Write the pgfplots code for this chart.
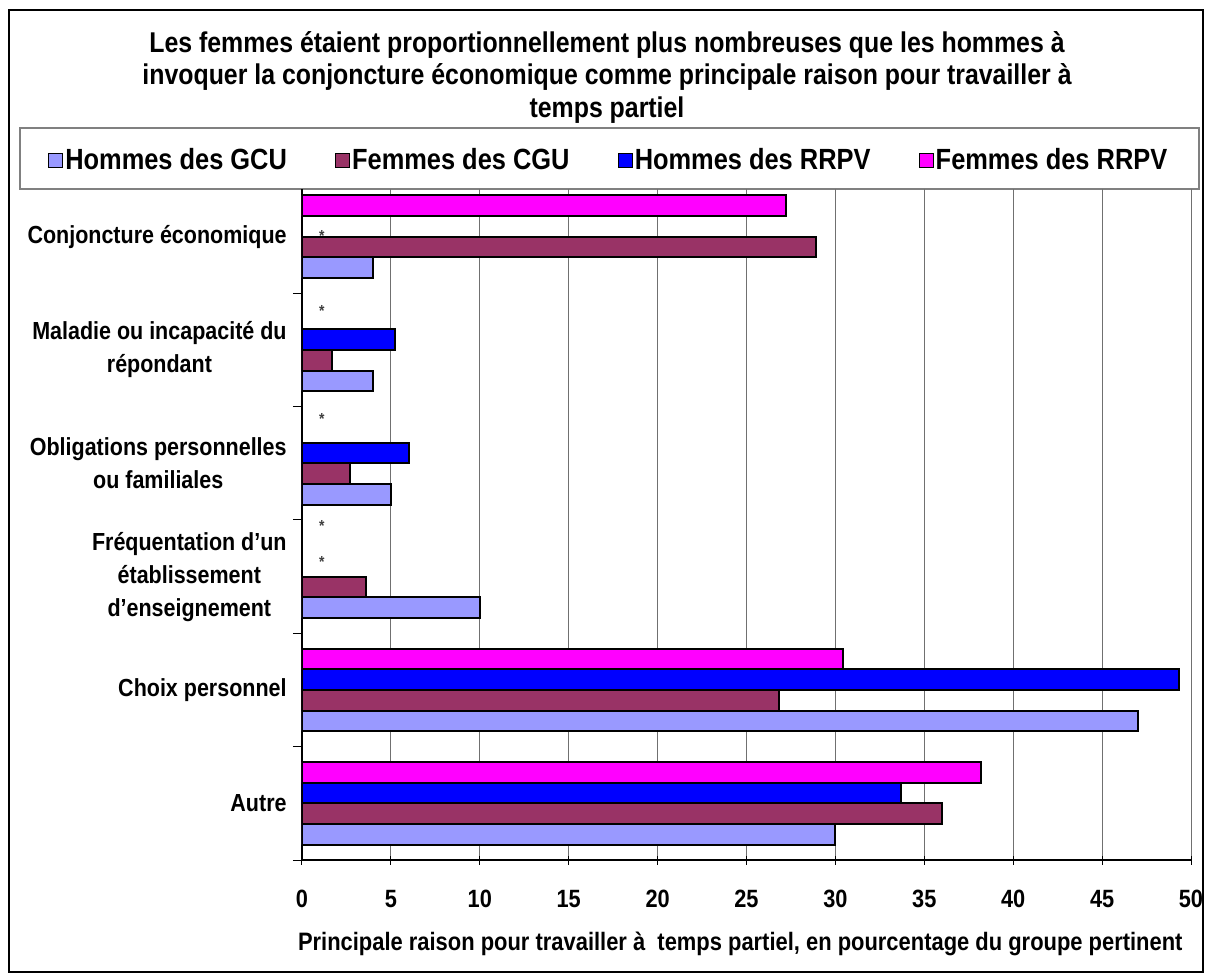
\documentclass[border=0pt]{standalone}
\usepackage{fontspec}
\setmainfont{Liberation Sans}[FakeStretch=0.87]
\usepackage{pgfplots}
\pgfplotsset{compat=1.18}
\definecolor{gcu}{HTML}{9999FF}
\definecolor{cgu}{HTML}{993366}
\definecolor{rrpvh}{HTML}{0000FF}
\definecolor{rrpvf}{HTML}{FF00FF}
\definecolor{gridc}{HTML}{707070}
\newcommand\titlefont{\bfseries\fontsize{14.3}{16.25}\selectfont}
\newcommand\legfont{\bfseries\fontsize{14.6}{16}\selectfont}
\newcommand\catfont{\bfseries\fontsize{12.35}{16.5}\selectfont}
\newcommand\tickfont{\bfseries\fontsize{12.5}{14}\selectfont}
\newcommand\labfont{\bfseries\fontsize{12.6}{14}\selectfont}

\begin{document}
\begin{tikzpicture}
\useasboundingbox (0pt,0pt) rectangle (602.5pt,-487pt);
\begin{scope}[x=0.5pt,y=-0.5pt]
  \draw[line width=1pt] (9,10) rectangle (1203,972);
  \node[font=\titlefont, align=center] at (607,77)
    {Les femmes étaient proportionnellement plus nombreuses que les hommes à\\
     invoquer la conjoncture économique comme principale raison pour travailler à\\
     temps partiel};
  \draw[gray, line width=1pt, fill=white] (20,128) rectangle (1199,189);
\end{scope}

\begin{axis}[
  at={(151pt,-430pt)}, anchor=south west,
  width=444.5pt, height=335.5pt, scale only axis,
  xmin=0, xmax=50, ymin=-0.5, ymax=5.42,
  axis x line*=bottom, axis y line*=left,
  axis line style={black, line width=0.6pt},
  tick align=center, major tick length=4.5pt,
  tick style={black, line width=0.5pt},
  xtick={0,5,...,50},
  xmajorgrids, major grid style={gridc, line width=0.5pt},
  /pgf/number format/assume math mode=true,
  xticklabel style={font=\tickfont, inner sep=0pt, yshift=-12.5pt},
  ytick={-0.5,0.5,...,4.5}, yticklabels={},
  y tick style={xshift=-2.25pt},
  extra y ticks={0,1,2,3,4,5},
  extra y tick labels={Autre, Choix personnel,
    {Fréquentation d’un\\établissement\\d’enseignement},
    {Obligations personnelles\\ou familiales},
    {Maladie ou incapacité du\\répondant},
    Conjoncture économique},
  extra y tick style={major tick length=0pt,
    yticklabel style={align=center, font=\catfont, inner sep=0pt, xshift=-7.5pt}},
  xlabel={Principale raison pour travailler à\ \ temps partiel, en pourcentage du groupe pertinent},
  xlabel style={font=\labfont, at={(axis description cs:0.493,0)}, anchor=center, yshift=-42pt},
  legend columns=4,
  legend style={at={(0.345,1.043)}, anchor=center, draw=none, fill=none,
    font=\legfont, nodes={inner sep=1pt},
    /tikz/every even column/.append style={column sep=23pt}},
  legend image code/.code={\draw[#1, line width=0.6pt] (0pt,-3.5pt) rectangle (7pt,3.5pt);},
]
\addplot[xbar, bar width=0.182, bar shift=-0.273, fill=gcu, draw=black, line width=1pt]
  coordinates {(4,5) (4,4) (5,3) (10,2) (47,1) (30,0)};
\addlegendentry{Hommes des GCU}
\addplot[xbar, bar width=0.182, bar shift=-0.091, fill=cgu, draw=black, line width=1pt]
  coordinates {(28.9,5) (1.7,4) (2.7,3) (3.6,2) (26.8,1) (36.0,0)};
\addlegendentry{Femmes des CGU}
\addplot[xbar, bar width=0.182, bar shift=0.091, fill=rrpvh, draw=black, line width=1pt]
  coordinates {(5.25,4) (6.0,3) (49.3,1) (33.7,0)};
\addlegendentry{Hommes des RRPV}
\addplot[xbar, bar width=0.182, bar shift=0.273, fill=rrpvf, draw=black, line width=1pt]
  coordinates {(27.2,5) (30.4,1) (38.2,0)};
\addlegendentry{Femmes des RRPV}
% asterisks for values not shown
\addplot[forget plot, draw=none, mark=none, nodes near coords={*},
  nodes near coords align={center},
  every node near coord/.append style={font=\bfseries\fontsize{8}{8}\selectfont, text=black!75, yshift=-1.5pt, xshift=1pt}]
  coordinates {(1,5.035) (1,4.37) (1,3.417) (1,2.47) (1,2.152)};
\end{axis}
\end{tikzpicture}
\end{document}
